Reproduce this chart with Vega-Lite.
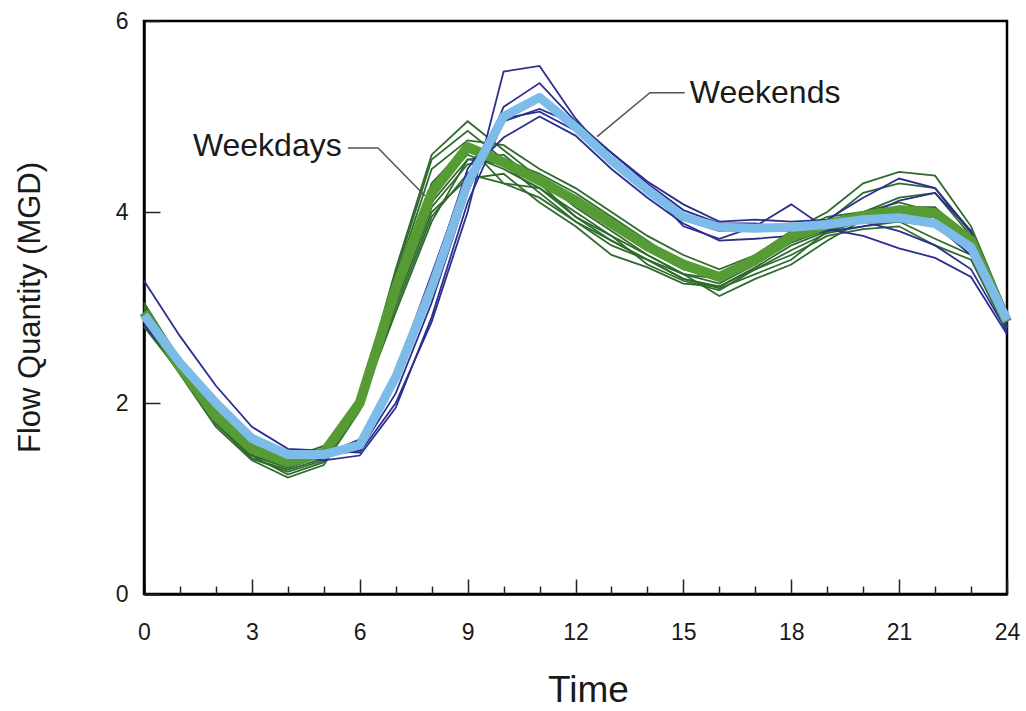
{
"$schema":"https://vega.github.io/schema/vega-lite/v6.json",
"width":863,"height":573,
"autosize":{"type":"none"},
"padding":{"left":144,"top":21,"right":19,"bottom":117},
"background":"white",
"config":{"view":{"stroke":"black","strokeWidth":2.5},"font":"Liberation Sans","axis":{"grid":false}},
"resolve":{"axis":{"x":"independent"}},
"datasets":{
"curves":[
{"s":"D1","g":"wd","h":0,"v":3.05},{"s":"D1","g":"wd","h":1,"v":2.45},{"s":"D1","g":"wd","h":2,"v":1.85},{"s":"D1","g":"wd","h":3,"v":1.5},{"s":"D1","g":"wd","h":4,"v":1.4},{"s":"D1","g":"wd","h":5,"v":1.5},{"s":"D1","g":"wd","h":6,"v":2.05},{"s":"D1","g":"wd","h":7,"v":3.4},{"s":"D1","g":"wd","h":8,"v":4.6},{"s":"D1","g":"wd","h":9,"v":4.95},{"s":"D1","g":"wd","h":10,"v":4.65},{"s":"D1","g":"wd","h":11,"v":4.35},{"s":"D1","g":"wd","h":12,"v":4.1},{"s":"D1","g":"wd","h":13,"v":3.85},{"s":"D1","g":"wd","h":14,"v":3.6},{"s":"D1","g":"wd","h":15,"v":3.4},{"s":"D1","g":"wd","h":16,"v":3.3},{"s":"D1","g":"wd","h":17,"v":3.55},{"s":"D1","g":"wd","h":18,"v":3.8},{"s":"D1","g":"wd","h":19,"v":4.0},{"s":"D1","g":"wd","h":20,"v":4.3},{"s":"D1","g":"wd","h":21,"v":4.42},{"s":"D1","g":"wd","h":22,"v":4.38},{"s":"D1","g":"wd","h":23,"v":3.85},{"s":"D1","g":"wd","h":24,"v":2.95},
{"s":"D2","g":"wd","h":0,"v":3.0},{"s":"D2","g":"wd","h":1,"v":2.4},{"s":"D2","g":"wd","h":2,"v":1.8},{"s":"D2","g":"wd","h":3,"v":1.45},{"s":"D2","g":"wd","h":4,"v":1.35},{"s":"D2","g":"wd","h":5,"v":1.45},{"s":"D2","g":"wd","h":6,"v":2.0},{"s":"D2","g":"wd","h":7,"v":3.35},{"s":"D2","g":"wd","h":8,"v":4.55},{"s":"D2","g":"wd","h":9,"v":4.85},{"s":"D2","g":"wd","h":10,"v":4.55},{"s":"D2","g":"wd","h":11,"v":4.4},{"s":"D2","g":"wd","h":12,"v":4.2},{"s":"D2","g":"wd","h":13,"v":3.95},{"s":"D2","g":"wd","h":14,"v":3.7},{"s":"D2","g":"wd","h":15,"v":3.45},{"s":"D2","g":"wd","h":16,"v":3.35},{"s":"D2","g":"wd","h":17,"v":3.5},{"s":"D2","g":"wd","h":18,"v":3.72},{"s":"D2","g":"wd","h":19,"v":3.9},{"s":"D2","g":"wd","h":20,"v":4.2},{"s":"D2","g":"wd","h":21,"v":4.3},{"s":"D2","g":"wd","h":22,"v":4.25},{"s":"D2","g":"wd","h":23,"v":3.8},{"s":"D2","g":"wd","h":24,"v":2.9},
{"s":"D3","g":"wd","h":0,"v":2.95},{"s":"D3","g":"wd","h":1,"v":2.38},{"s":"D3","g":"wd","h":2,"v":1.78},{"s":"D3","g":"wd","h":3,"v":1.42},{"s":"D3","g":"wd","h":4,"v":1.3},{"s":"D3","g":"wd","h":5,"v":1.42},{"s":"D3","g":"wd","h":6,"v":1.98},{"s":"D3","g":"wd","h":7,"v":3.3},{"s":"D3","g":"wd","h":8,"v":4.45},{"s":"D3","g":"wd","h":9,"v":4.75},{"s":"D3","g":"wd","h":10,"v":4.7},{"s":"D3","g":"wd","h":11,"v":4.45},{"s":"D3","g":"wd","h":12,"v":4.25},{"s":"D3","g":"wd","h":13,"v":4.0},{"s":"D3","g":"wd","h":14,"v":3.75},{"s":"D3","g":"wd","h":15,"v":3.55},{"s":"D3","g":"wd","h":16,"v":3.4},{"s":"D3","g":"wd","h":17,"v":3.55},{"s":"D3","g":"wd","h":18,"v":3.78},{"s":"D3","g":"wd","h":19,"v":3.95},{"s":"D3","g":"wd","h":20,"v":4.0},{"s":"D3","g":"wd","h":21,"v":4.15},{"s":"D3","g":"wd","h":22,"v":4.2},{"s":"D3","g":"wd","h":23,"v":3.75},{"s":"D3","g":"wd","h":24,"v":2.85},
{"s":"D4","g":"wd","h":0,"v":2.9},{"s":"D4","g":"wd","h":1,"v":2.35},{"s":"D4","g":"wd","h":2,"v":1.8},{"s":"D4","g":"wd","h":3,"v":1.45},{"s":"D4","g":"wd","h":4,"v":1.25},{"s":"D4","g":"wd","h":5,"v":1.38},{"s":"D4","g":"wd","h":6,"v":1.95},{"s":"D4","g":"wd","h":7,"v":3.2},{"s":"D4","g":"wd","h":8,"v":4.2},{"s":"D4","g":"wd","h":9,"v":4.6},{"s":"D4","g":"wd","h":10,"v":4.45},{"s":"D4","g":"wd","h":11,"v":4.25},{"s":"D4","g":"wd","h":12,"v":3.95},{"s":"D4","g":"wd","h":13,"v":3.7},{"s":"D4","g":"wd","h":14,"v":3.5},{"s":"D4","g":"wd","h":15,"v":3.3},{"s":"D4","g":"wd","h":16,"v":3.22},{"s":"D4","g":"wd","h":17,"v":3.42},{"s":"D4","g":"wd","h":18,"v":3.65},{"s":"D4","g":"wd","h":19,"v":3.8},{"s":"D4","g":"wd","h":20,"v":3.9},{"s":"D4","g":"wd","h":21,"v":3.95},{"s":"D4","g":"wd","h":22,"v":3.9},{"s":"D4","g":"wd","h":23,"v":3.65},{"s":"D4","g":"wd","h":24,"v":2.8},
{"s":"D5","g":"wd","h":0,"v":2.85},{"s":"D5","g":"wd","h":1,"v":2.3},{"s":"D5","g":"wd","h":2,"v":1.75},{"s":"D5","g":"wd","h":3,"v":1.4},{"s":"D5","g":"wd","h":4,"v":1.22},{"s":"D5","g":"wd","h":5,"v":1.35},{"s":"D5","g":"wd","h":6,"v":1.92},{"s":"D5","g":"wd","h":7,"v":3.1},{"s":"D5","g":"wd","h":8,"v":4.05},{"s":"D5","g":"wd","h":9,"v":4.5},{"s":"D5","g":"wd","h":10,"v":4.55},{"s":"D5","g":"wd","h":11,"v":4.35},{"s":"D5","g":"wd","h":12,"v":4.05},{"s":"D5","g":"wd","h":13,"v":3.8},{"s":"D5","g":"wd","h":14,"v":3.55},{"s":"D5","g":"wd","h":15,"v":3.35},{"s":"D5","g":"wd","h":16,"v":3.25},{"s":"D5","g":"wd","h":17,"v":3.45},{"s":"D5","g":"wd","h":18,"v":3.7},{"s":"D5","g":"wd","h":19,"v":3.85},{"s":"D5","g":"wd","h":20,"v":3.95},{"s":"D5","g":"wd","h":21,"v":4.05},{"s":"D5","g":"wd","h":22,"v":4.05},{"s":"D5","g":"wd","h":23,"v":3.7},{"s":"D5","g":"wd","h":24,"v":2.85},
{"s":"D6","g":"wd","h":0,"v":2.8},{"s":"D6","g":"wd","h":1,"v":2.32},{"s":"D6","g":"wd","h":2,"v":1.78},{"s":"D6","g":"wd","h":3,"v":1.42},{"s":"D6","g":"wd","h":4,"v":1.28},{"s":"D6","g":"wd","h":5,"v":1.4},{"s":"D6","g":"wd","h":6,"v":1.95},{"s":"D6","g":"wd","h":7,"v":3.0},{"s":"D6","g":"wd","h":8,"v":3.95},{"s":"D6","g":"wd","h":9,"v":4.4},{"s":"D6","g":"wd","h":10,"v":4.3},{"s":"D6","g":"wd","h":11,"v":4.25},{"s":"D6","g":"wd","h":12,"v":4.0},{"s":"D6","g":"wd","h":13,"v":3.75},{"s":"D6","g":"wd","h":14,"v":3.45},{"s":"D6","g":"wd","h":15,"v":3.28},{"s":"D6","g":"wd","h":16,"v":3.18},{"s":"D6","g":"wd","h":17,"v":3.4},{"s":"D6","g":"wd","h":18,"v":3.6},{"s":"D6","g":"wd","h":19,"v":3.78},{"s":"D6","g":"wd","h":20,"v":3.85},{"s":"D6","g":"wd","h":21,"v":3.9},{"s":"D6","g":"wd","h":22,"v":3.85},{"s":"D6","g":"wd","h":23,"v":3.6},{"s":"D6","g":"wd","h":24,"v":2.8},
{"s":"D7","g":"wd","h":0,"v":2.98},{"s":"D7","g":"wd","h":1,"v":2.42},{"s":"D7","g":"wd","h":2,"v":1.85},{"s":"D7","g":"wd","h":3,"v":1.5},{"s":"D7","g":"wd","h":4,"v":1.42},{"s":"D7","g":"wd","h":5,"v":1.55},{"s":"D7","g":"wd","h":6,"v":2.0},{"s":"D7","g":"wd","h":7,"v":3.15},{"s":"D7","g":"wd","h":8,"v":4.1},{"s":"D7","g":"wd","h":9,"v":4.55},{"s":"D7","g":"wd","h":10,"v":4.5},{"s":"D7","g":"wd","h":11,"v":4.2},{"s":"D7","g":"wd","h":12,"v":3.9},{"s":"D7","g":"wd","h":13,"v":3.65},{"s":"D7","g":"wd","h":14,"v":3.5},{"s":"D7","g":"wd","h":15,"v":3.35},{"s":"D7","g":"wd","h":16,"v":3.3},{"s":"D7","g":"wd","h":17,"v":3.45},{"s":"D7","g":"wd","h":18,"v":3.68},{"s":"D7","g":"wd","h":19,"v":3.82},{"s":"D7","g":"wd","h":20,"v":3.9},{"s":"D7","g":"wd","h":21,"v":3.9},{"s":"D7","g":"wd","h":22,"v":3.72},{"s":"D7","g":"wd","h":23,"v":3.55},{"s":"D7","g":"wd","h":24,"v":2.78},
{"s":"D8","g":"wd","h":0,"v":2.92},{"s":"D8","g":"wd","h":1,"v":2.4},{"s":"D8","g":"wd","h":2,"v":1.82},{"s":"D8","g":"wd","h":3,"v":1.48},{"s":"D8","g":"wd","h":4,"v":1.35},{"s":"D8","g":"wd","h":5,"v":1.48},{"s":"D8","g":"wd","h":6,"v":1.98},{"s":"D8","g":"wd","h":7,"v":3.05},{"s":"D8","g":"wd","h":8,"v":4.0},{"s":"D8","g":"wd","h":9,"v":4.35},{"s":"D8","g":"wd","h":10,"v":4.4},{"s":"D8","g":"wd","h":11,"v":4.1},{"s":"D8","g":"wd","h":12,"v":3.85},{"s":"D8","g":"wd","h":13,"v":3.55},{"s":"D8","g":"wd","h":14,"v":3.42},{"s":"D8","g":"wd","h":15,"v":3.25},{"s":"D8","g":"wd","h":16,"v":3.22},{"s":"D8","g":"wd","h":17,"v":3.4},{"s":"D8","g":"wd","h":18,"v":3.55},{"s":"D8","g":"wd","h":19,"v":3.75},{"s":"D8","g":"wd","h":20,"v":3.82},{"s":"D8","g":"wd","h":21,"v":3.85},{"s":"D8","g":"wd","h":22,"v":3.65},{"s":"D8","g":"wd","h":23,"v":3.5},{"s":"D8","g":"wd","h":24,"v":2.75},
{"s":"D9","g":"wd","h":0,"v":3.02},{"s":"D9","g":"wd","h":1,"v":2.45},{"s":"D9","g":"wd","h":2,"v":1.85},{"s":"D9","g":"wd","h":3,"v":1.47},{"s":"D9","g":"wd","h":4,"v":1.38},{"s":"D9","g":"wd","h":5,"v":1.45},{"s":"D9","g":"wd","h":6,"v":2.02},{"s":"D9","g":"wd","h":7,"v":3.25},{"s":"D9","g":"wd","h":8,"v":4.3},{"s":"D9","g":"wd","h":9,"v":4.7},{"s":"D9","g":"wd","h":10,"v":4.3},{"s":"D9","g":"wd","h":11,"v":4.15},{"s":"D9","g":"wd","h":12,"v":3.9},{"s":"D9","g":"wd","h":13,"v":3.7},{"s":"D9","g":"wd","h":14,"v":3.5},{"s":"D9","g":"wd","h":15,"v":3.3},{"s":"D9","g":"wd","h":16,"v":3.2},{"s":"D9","g":"wd","h":17,"v":3.35},{"s":"D9","g":"wd","h":18,"v":3.5},{"s":"D9","g":"wd","h":19,"v":3.8},{"s":"D9","g":"wd","h":20,"v":4.0},{"s":"D9","g":"wd","h":21,"v":4.1},{"s":"D9","g":"wd","h":22,"v":4.0},{"s":"D9","g":"wd","h":23,"v":3.75},{"s":"D9","g":"wd","h":24,"v":2.9},
{"s":"D10","g":"wd","h":0,"v":2.96},{"s":"D10","g":"wd","h":1,"v":2.36},{"s":"D10","g":"wd","h":2,"v":1.8},{"s":"D10","g":"wd","h":3,"v":1.45},{"s":"D10","g":"wd","h":4,"v":1.32},{"s":"D10","g":"wd","h":5,"v":1.45},{"s":"D10","g":"wd","h":6,"v":1.96},{"s":"D10","g":"wd","h":7,"v":2.95},{"s":"D10","g":"wd","h":8,"v":3.9},{"s":"D10","g":"wd","h":9,"v":4.55},{"s":"D10","g":"wd","h":10,"v":4.6},{"s":"D10","g":"wd","h":11,"v":4.3},{"s":"D10","g":"wd","h":12,"v":3.95},{"s":"D10","g":"wd","h":13,"v":3.75},{"s":"D10","g":"wd","h":14,"v":3.55},{"s":"D10","g":"wd","h":15,"v":3.35},{"s":"D10","g":"wd","h":16,"v":3.12},{"s":"D10","g":"wd","h":17,"v":3.3},{"s":"D10","g":"wd","h":18,"v":3.45},{"s":"D10","g":"wd","h":19,"v":3.7},{"s":"D10","g":"wd","h":20,"v":3.92},{"s":"D10","g":"wd","h":21,"v":3.95},{"s":"D10","g":"wd","h":22,"v":3.95},{"s":"D10","g":"wd","h":23,"v":3.72},{"s":"D10","g":"wd","h":24,"v":2.82},
{"s":"E1","g":"we","h":0,"v":3.28},{"s":"E1","g":"we","h":1,"v":2.7},{"s":"E1","g":"we","h":2,"v":2.18},{"s":"E1","g":"we","h":3,"v":1.75},{"s":"E1","g":"we","h":4,"v":1.52},{"s":"E1","g":"we","h":5,"v":1.5},{"s":"E1","g":"we","h":6,"v":1.48},{"s":"E1","g":"we","h":7,"v":2.0},{"s":"E1","g":"we","h":8,"v":2.85},{"s":"E1","g":"we","h":9,"v":4.0},{"s":"E1","g":"we","h":10,"v":5.47},{"s":"E1","g":"we","h":11,"v":5.53},{"s":"E1","g":"we","h":12,"v":4.98},{"s":"E1","g":"we","h":13,"v":4.55},{"s":"E1","g":"we","h":14,"v":4.25},{"s":"E1","g":"we","h":15,"v":3.85},{"s":"E1","g":"we","h":16,"v":3.72},{"s":"E1","g":"we","h":17,"v":3.85},{"s":"E1","g":"we","h":18,"v":4.08},{"s":"E1","g":"we","h":19,"v":3.82},{"s":"E1","g":"we","h":20,"v":3.75},{"s":"E1","g":"we","h":21,"v":3.62},{"s":"E1","g":"we","h":22,"v":3.52},{"s":"E1","g":"we","h":23,"v":3.32},{"s":"E1","g":"we","h":24,"v":2.72},
{"s":"E2","g":"we","h":0,"v":2.95},{"s":"E2","g":"we","h":1,"v":2.45},{"s":"E2","g":"we","h":2,"v":2.0},{"s":"E2","g":"we","h":3,"v":1.62},{"s":"E2","g":"we","h":4,"v":1.44},{"s":"E2","g":"we","h":5,"v":1.45},{"s":"E2","g":"we","h":6,"v":1.5},{"s":"E2","g":"we","h":7,"v":2.1},{"s":"E2","g":"we","h":8,"v":3.05},{"s":"E2","g":"we","h":9,"v":4.2},{"s":"E2","g":"we","h":10,"v":5.1},{"s":"E2","g":"we","h":11,"v":5.35},{"s":"E2","g":"we","h":12,"v":4.95},{"s":"E2","g":"we","h":13,"v":4.62},{"s":"E2","g":"we","h":14,"v":4.32},{"s":"E2","g":"we","h":15,"v":4.08},{"s":"E2","g":"we","h":16,"v":3.9},{"s":"E2","g":"we","h":17,"v":3.92},{"s":"E2","g":"we","h":18,"v":3.9},{"s":"E2","g":"we","h":19,"v":3.92},{"s":"E2","g":"we","h":20,"v":4.15},{"s":"E2","g":"we","h":21,"v":4.35},{"s":"E2","g":"we","h":22,"v":4.25},{"s":"E2","g":"we","h":23,"v":3.78},{"s":"E2","g":"we","h":24,"v":2.82},
{"s":"E3","g":"we","h":0,"v":2.9},{"s":"E3","g":"we","h":1,"v":2.4},{"s":"E3","g":"we","h":2,"v":1.97},{"s":"E3","g":"we","h":3,"v":1.6},{"s":"E3","g":"we","h":4,"v":1.42},{"s":"E3","g":"we","h":5,"v":1.43},{"s":"E3","g":"we","h":6,"v":1.55},{"s":"E3","g":"we","h":7,"v":2.25},{"s":"E3","g":"we","h":8,"v":3.3},{"s":"E3","g":"we","h":9,"v":4.45},{"s":"E3","g":"we","h":10,"v":4.98},{"s":"E3","g":"we","h":11,"v":5.05},{"s":"E3","g":"we","h":12,"v":4.85},{"s":"E3","g":"we","h":13,"v":4.5},{"s":"E3","g":"we","h":14,"v":4.2},{"s":"E3","g":"we","h":15,"v":3.92},{"s":"E3","g":"we","h":16,"v":3.8},{"s":"E3","g":"we","h":17,"v":3.82},{"s":"E3","g":"we","h":18,"v":3.8},{"s":"E3","g":"we","h":19,"v":3.86},{"s":"E3","g":"we","h":20,"v":3.95},{"s":"E3","g":"we","h":21,"v":4.12},{"s":"E3","g":"we","h":22,"v":4.2},{"s":"E3","g":"we","h":23,"v":3.8},{"s":"E3","g":"we","h":24,"v":2.85},
{"s":"E4","g":"we","h":0,"v":2.85},{"s":"E4","g":"we","h":1,"v":2.38},{"s":"E4","g":"we","h":2,"v":1.95},{"s":"E4","g":"we","h":3,"v":1.6},{"s":"E4","g":"we","h":4,"v":1.45},{"s":"E4","g":"we","h":5,"v":1.4},{"s":"E4","g":"we","h":6,"v":1.45},{"s":"E4","g":"we","h":7,"v":1.95},{"s":"E4","g":"we","h":8,"v":2.9},{"s":"E4","g":"we","h":9,"v":4.1},{"s":"E4","g":"we","h":10,"v":4.95},{"s":"E4","g":"we","h":11,"v":5.08},{"s":"E4","g":"we","h":12,"v":4.92},{"s":"E4","g":"we","h":13,"v":4.62},{"s":"E4","g":"we","h":14,"v":4.3},{"s":"E4","g":"we","h":15,"v":4.02},{"s":"E4","g":"we","h":16,"v":3.88},{"s":"E4","g":"we","h":17,"v":3.88},{"s":"E4","g":"we","h":18,"v":3.82},{"s":"E4","g":"we","h":19,"v":3.85},{"s":"E4","g":"we","h":20,"v":3.9},{"s":"E4","g":"we","h":21,"v":3.8},{"s":"E4","g":"we","h":22,"v":3.65},{"s":"E4","g":"we","h":23,"v":3.4},{"s":"E4","g":"we","h":24,"v":2.75},
{"s":"E5","g":"we","h":0,"v":2.82},{"s":"E5","g":"we","h":1,"v":2.35},{"s":"E5","g":"we","h":2,"v":1.92},{"s":"E5","g":"we","h":3,"v":1.56},{"s":"E5","g":"we","h":4,"v":1.4},{"s":"E5","g":"we","h":5,"v":1.46},{"s":"E5","g":"we","h":6,"v":1.62},{"s":"E5","g":"we","h":7,"v":2.32},{"s":"E5","g":"we","h":8,"v":3.35},{"s":"E5","g":"we","h":9,"v":4.4},{"s":"E5","g":"we","h":10,"v":4.78},{"s":"E5","g":"we","h":11,"v":5.0},{"s":"E5","g":"we","h":12,"v":4.8},{"s":"E5","g":"we","h":13,"v":4.45},{"s":"E5","g":"we","h":14,"v":4.15},{"s":"E5","g":"we","h":15,"v":3.88},{"s":"E5","g":"we","h":16,"v":3.7},{"s":"E5","g":"we","h":17,"v":3.72},{"s":"E5","g":"we","h":18,"v":3.75},{"s":"E5","g":"we","h":19,"v":3.8},{"s":"E5","g":"we","h":20,"v":3.85},{"s":"E5","g":"we","h":21,"v":3.92},{"s":"E5","g":"we","h":22,"v":3.86},{"s":"E5","g":"we","h":23,"v":3.55},{"s":"E5","g":"we","h":24,"v":2.8},
{"s":"AWD","g":"wdavg","h":0,"v":2.95},{"s":"AWD","g":"wdavg","h":1,"v":2.38},{"s":"AWD","g":"wdavg","h":2,"v":1.86},{"s":"AWD","g":"wdavg","h":3,"v":1.52},{"s":"AWD","g":"wdavg","h":4,"v":1.38},{"s":"AWD","g":"wdavg","h":5,"v":1.48},{"s":"AWD","g":"wdavg","h":6,"v":2.0},{"s":"AWD","g":"wdavg","h":7,"v":3.2},{"s":"AWD","g":"wdavg","h":8,"v":4.2},{"s":"AWD","g":"wdavg","h":9,"v":4.68},{"s":"AWD","g":"wdavg","h":10,"v":4.52},{"s":"AWD","g":"wdavg","h":11,"v":4.33},{"s":"AWD","g":"wdavg","h":12,"v":4.12},{"s":"AWD","g":"wdavg","h":13,"v":3.88},{"s":"AWD","g":"wdavg","h":14,"v":3.64},{"s":"AWD","g":"wdavg","h":15,"v":3.45},{"s":"AWD","g":"wdavg","h":16,"v":3.32},{"s":"AWD","g":"wdavg","h":17,"v":3.5},{"s":"AWD","g":"wdavg","h":18,"v":3.74},{"s":"AWD","g":"wdavg","h":19,"v":3.87},{"s":"AWD","g":"wdavg","h":20,"v":3.96},{"s":"AWD","g":"wdavg","h":21,"v":4.02},{"s":"AWD","g":"wdavg","h":22,"v":3.99},{"s":"AWD","g":"wdavg","h":23,"v":3.7},{"s":"AWD","g":"wdavg","h":24,"v":2.85},
{"s":"AWE","g":"weavg","h":0,"v":2.92},{"s":"AWE","g":"weavg","h":1,"v":2.42},{"s":"AWE","g":"weavg","h":2,"v":2.0},{"s":"AWE","g":"weavg","h":3,"v":1.63},{"s":"AWE","g":"weavg","h":4,"v":1.46},{"s":"AWE","g":"weavg","h":5,"v":1.46},{"s":"AWE","g":"weavg","h":6,"v":1.56},{"s":"AWE","g":"weavg","h":7,"v":2.27},{"s":"AWE","g":"weavg","h":8,"v":3.21},{"s":"AWE","g":"weavg","h":9,"v":4.3},{"s":"AWE","g":"weavg","h":10,"v":5.0},{"s":"AWE","g":"weavg","h":11,"v":5.2},{"s":"AWE","g":"weavg","h":12,"v":4.89},{"s":"AWE","g":"weavg","h":13,"v":4.54},{"s":"AWE","g":"weavg","h":14,"v":4.23},{"s":"AWE","g":"weavg","h":15,"v":3.95},{"s":"AWE","g":"weavg","h":16,"v":3.84},{"s":"AWE","g":"weavg","h":17,"v":3.83},{"s":"AWE","g":"weavg","h":18,"v":3.84},{"s":"AWE","g":"weavg","h":19,"v":3.87},{"s":"AWE","g":"weavg","h":20,"v":3.92},{"s":"AWE","g":"weavg","h":21,"v":3.94},{"s":"AWE","g":"weavg","h":22,"v":3.88},{"s":"AWE","g":"weavg","h":23,"v":3.63},{"s":"AWE","g":"weavg","h":24,"v":2.87}
],
"leaders":[
{"seg":"wd","i":0,"h":5.67,"v":4.67},{"seg":"wd","i":1,"h":6.51,"v":4.67},{"seg":"wd","i":2,"h":7.81,"v":4.17},
{"seg":"we","i":0,"h":15.04,"v":5.25},{"seg":"we","i":1,"h":14.07,"v":5.25},{"seg":"we","i":2,"h":12.6,"v":4.79}
],
"labels":[
{"t":"Weekdays","h":1.36,"v":4.69},
{"t":"Weekends","h":15.18,"v":5.25}
]
},
"layer":[
{
"data":{"name":"curves"},
"transform":[{"filter":"datum.g === 'wd'"}],
"mark":{"type":"line","color":"#2f6b2c","strokeWidth":1.8},
"encoding":{
"x":{"field":"h","type":"quantitative","scale":{"domain":[0,24],"nice":false},
"axis":{"orient":"bottom","values":[0,3,6,9,12,15,18,21,24],
"tickSize":-15,"tickColor":"#222","tickWidth":1.5,"domainColor":"black","domainWidth":2.5,
"labelFontSize":23,"labelColor":"#1a1a1a","labelPadding":42,"labelFlush":false,"labelOverlap":false,
"title":"Time","titleFontSize":37,"titleFontWeight":"normal","titleColor":"#1a1a1a",
"titleX":444,"titleY":96,"titleBaseline":"middle","titleAlign":"center"}},
"y":{"field":"v","type":"quantitative","scale":{"domain":[0,6],"nice":false},
"axis":{"values":[0,2,4,6],"format":"d","tickSize":-16,"tickColor":"#222","tickWidth":1.5,"domainColor":"black","domainWidth":2.5,
"labelFontSize":23,"labelColor":"#1a1a1a","labelPadding":32,
"title":"Flow Quantity (MGD)","titleFontSize":31,"titleFontWeight":"normal","titleColor":"#1a1a1a",
"titleX":-114,"titleY":286,"titleBaseline":"middle","titleAlign":"center","titleAngle":-90}},
"detail":{"field":"s"}
}
},
{
"data":{"name":"curves"},
"transform":[{"filter":"datum.g === 'we'"}],
"mark":{"type":"line","color":"#2c2f8f","strokeWidth":1.8},
"encoding":{"x":{"field":"h","type":"quantitative",
"axis":{"orient":"bottom","values":[1,2,4,5,7,8,10,11,13,14,16,17,19,20,22,23],"labels":false,"domain":false,"title":null,"tickSize":-8,"tickColor":"#222","tickWidth":1.5}},
"y":{"field":"v","type":"quantitative"},"detail":{"field":"s"}}
},
{
"data":{"name":"curves"},
"transform":[{"filter":"datum.g === 'wdavg'"}],
"mark":{"type":"line","color":"#569b34","strokeWidth":10,"strokeJoin":"round"},
"encoding":{"x":{"field":"h","type":"quantitative","axis":null},"y":{"field":"v","type":"quantitative"}}
},
{
"data":{"name":"curves"},
"transform":[{"filter":"datum.g === 'weavg'"}],
"mark":{"type":"line","color":"#7dbbe8","strokeWidth":9,"strokeJoin":"round"},
"encoding":{"x":{"field":"h","type":"quantitative","axis":null},"y":{"field":"v","type":"quantitative"}}
},
{
"data":{"name":"leaders"},
"mark":{"type":"line","color":"#555555","strokeWidth":1.5},
"encoding":{"x":{"field":"h","type":"quantitative","axis":null},"y":{"field":"v","type":"quantitative"},"detail":{"field":"seg"},"order":{"field":"i"}}
},
{
"data":{"name":"labels"},
"mark":{"type":"text","align":"left","baseline":"middle","fontSize":32,"color":"#1a1a1a","font":"Liberation Sans"},
"encoding":{"x":{"field":"h","type":"quantitative","axis":null},"y":{"field":"v","type":"quantitative"},"text":{"field":"t"}}
}
]
}
